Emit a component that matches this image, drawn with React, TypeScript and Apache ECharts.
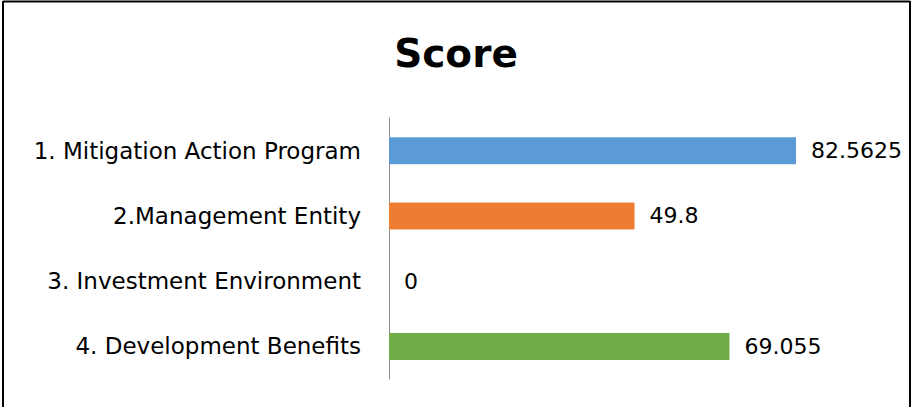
import React, { useEffect, useRef } from "react";
import * as echarts from "echarts";

const categories = [
  "1. Mitigation Action Program",
  "2.Management Entity",
  "3. Investment Environment",
  "4. Development Benefits",
];
const scores = [82.5625, 49.8, 0, 69.055];
const barColors = ["#5B9BD5", "#ED7D31", "#A5A5A5", "#70AD47"];
const titleText = "Score";

export default function App() {
  const ref = useRef<HTMLDivElement>(null);
  useEffect(() => {
    document.body.style.margin = "0";
    const chart = echarts.init(ref.current!, null, { renderer: "svg" });
    const font = "'DejaVu Sans', 'Open Sans', sans-serif";
    chart.setOption({
      animation: false,
      backgroundColor: "#ffffff",
      title: {
        text: titleText,
        left: "center",
        top: 29,
        textStyle: { fontFamily: font, fontWeight: "bold", fontSize: 39, color: "#000" },
      },
      grid: { left: 389, top: 118, width: 493, height: 261, containLabel: false },
      xAxis: {
        type: "value",
        min: 0,
        max: 100,
        show: false,
      },
      yAxis: {
        type: "category",
        data: categories,
        inverse: true,
        axisLine: { show: true, lineStyle: { color: "#8c8c8c", width: 1 } },
        axisTick: { show: false },
        axisLabel: { margin: 28, fontFamily: font, fontSize: 23, color: "#000" },
      },
      series: [
        {
          type: "bar",
          barWidth: 27,
          data: scores.map((v, i) => ({ value: v, itemStyle: { color: barColors[i] } })),
          label: {
            show: true,
            position: "right",
            distance: 15,
            fontFamily: font,
            fontSize: 22,
            color: "#000",
          },
        },
      ],
      graphic: [
        { type: "line", shape: { x1: 3, y1: 1.5, x2: 910, y2: 1.5 }, style: { stroke: "#000", lineWidth: 2 } },
        { type: "line", shape: { x1: 3, y1: 1, x2: 3, y2: 407 }, style: { stroke: "#000", lineWidth: 2 } },
        { type: "line", shape: { x1: 910, y1: 1, x2: 910, y2: 407 }, style: { stroke: "#000", lineWidth: 2 } },
      ],
    });
    return () => chart.dispose();
  }, []);
  return <div ref={ref} style={{ position: "absolute", left: 0, top: 0, width: 912, height: 407 }} />;
}
